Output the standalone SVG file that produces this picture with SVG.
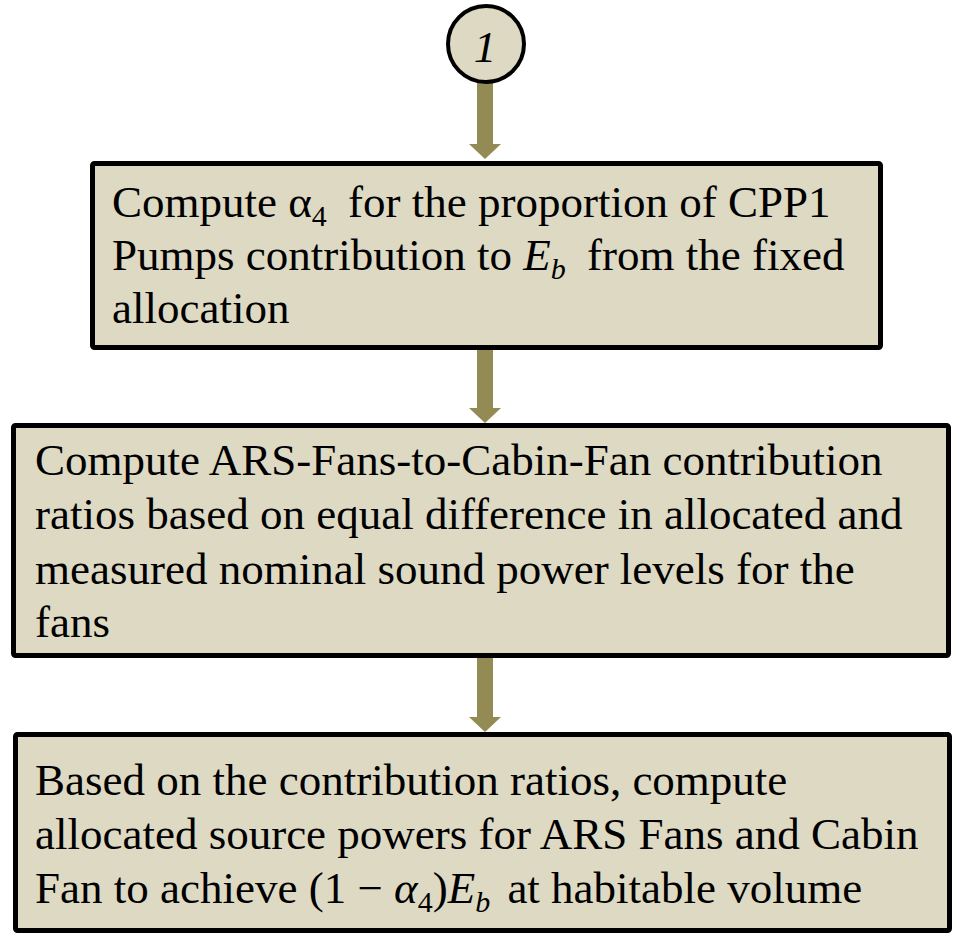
<svg xmlns="http://www.w3.org/2000/svg" width="960" height="936" viewBox="0 0 960 936">
<style>
.box{fill:#DDD9C3;stroke:#000;stroke-width:5}
.t{font-family:'Liberation Serif','Times New Roman',serif;font-size:45px;fill:#000}
.m{font-style:italic}
.s{font-size:30px}
.arr{fill:#948A54}
</style>
<rect width="960" height="936" fill="#fff"/>
<g id="connectors">
<polygon class="arr" points="477,83 493,83 493,144 501,144 485,159 469,144 477,144"/>
<polygon class="arr" points="477,350 493,350 493,408 501,408 485,423 469,408 477,408"/>
<polygon class="arr" points="477,658 493,658 493,717 501,717 485,732 469,717 477,717"/>
</g>
<g id="node-start">
<circle cx="486" cy="44" r="38" fill="#DDD9C3" stroke="#000" stroke-width="4"/>
<text class="t m" x="485" y="62" text-anchor="middle">1</text>
</g>
<g id="node-1">
<rect class="box" x="92.5" y="163.5" width="788" height="184" rx="2"/>
<text class="t" x="112" y="217">Compute α<tspan class="s" dy="9">4</tspan><tspan dy="-9" dx="10"> for the proportion of CPP1</tspan></text>
<text class="t" x="112" y="270">Pumps contribution to <tspan class="m">E</tspan><tspan class="m s" dy="9">b</tspan><tspan dy="-9" dx="10"> from the fixed</tspan></text>
<text class="t" x="112" y="323">allocation</text>
</g>
<g id="node-2">
<rect class="box" x="13.5" y="425.5" width="935" height="230" rx="2"/>
<text class="t" x="35" y="475">Compute ARS-Fans-to-Cabin-Fan contribution</text>
<text class="t" x="35" y="529">ratios based on equal difference in allocated and</text>
<text class="t" x="35" y="584">measured nominal sound power levels for the</text>
<text class="t" x="35" y="637">fans</text>
</g>
<g id="node-3">
<rect class="box" x="15.5" y="734.5" width="934" height="196" rx="2"/>
<text class="t" x="35" y="795">Based on the contribution ratios, compute</text>
<text class="t" x="35" y="849">allocated source powers for ARS Fans and Cabin</text>
<text class="t" x="35" y="903">Fan to achieve (1 − <tspan class="m">α</tspan><tspan class="s" dy="9">4</tspan><tspan dy="-9">)</tspan><tspan class="m">E</tspan><tspan class="m s" dy="9">b</tspan><tspan dy="-9" dx="6"> at habitable volume</tspan></text>
</g>
</svg>
